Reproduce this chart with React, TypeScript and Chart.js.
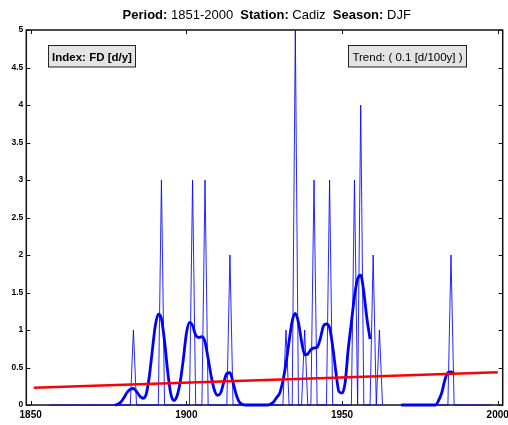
import { useEffect, useRef } from "react";
import { Chart, registerables } from "chart.js";

Chart.register(...registerables);

// ---------- data ----------
const startYear = 1856;

// annual FD index [d/y], 1856..1998 (null = missing)
const annualFD: (number | null)[] = [
  0, 0, 0, 0, // 1856-1859
  0, 0, 0, 0, 0, 0, 0, 0, 0, 0, // 1860s
  0, 0, 0, 0, 0, 0, 0, 0, 0, 0, // 1870s
  0, 0, 0, 1, 0, 0, 0, 0, 0, 0, // 1880s
  0, 0, 3, 0, 0, 0, 0, 0, 0, 0, // 1890s
  0, 0, 3, 0, 0, 0, 3, 0, 0, 0, // 1900s
  0, 0, 0, 0, 2, 0, 0, 0, 0, 0, // 1910s
  0, 0, 0, 0, 0, 0, 0, 0, 0, 0, // 1920s
  0, 0, 1, 0, 0, 5, 0, 0, 1, 0, // 1930s
  0, 3, 0, 0, 0, 0, 3, 0, 0, 0, // 1940s
  0, 0, 0, 0, 3, 0, 4, 0, 0, 0, // 1950s
  2, 0, 1, 0, null, null, null, null, null, 0, // 1960s
  0, 0, 0, 0, 0, 0, 0, 0, 0, 0, // 1970s
  0, 0, 0, 0, 0, 2, 0, 0, 0, 0, // 1980s
  0, 0, 0, 0, 0, 0, 0, 0, 0, // 1990-1998
];

// smoothed FD index, aligned with annualFD
const smoothedFD: (number | null)[] = [
  null, null, null, null,
  null, null, null, null, null, null, null, null, null, null,
  null, null, null, null, null, null, null, 0, 0.01, 0.04,
  0.1, 0.17, 0.21, 0.22, 0.18, 0.12, 0.09, 0.13, 0.35, 0.7,
  1.05, 1.21, 1.15, 0.85, 0.45, 0.15, 0.06, 0.12, 0.3, 0.6,
  0.95, 1.1, 1.06, 0.93, 0.9, 0.91, 0.84, 0.62, 0.38, 0.2,
  0.13, 0.16, 0.3, 0.42, 0.43, 0.3, 0.14, 0.04, 0.01, 0,
  0, 0, 0, 0, 0, 0, 0, 0.01, 0.04, 0.1,
  0.16, 0.32, 0.55, 0.85, 1.12, 1.22, 1.1, 0.85, 0.67, 0.68,
  0.74, 0.76, 0.77, 0.88, 1.05, 1.08, 1.03, 0.78, 0.45, 0.18,
  0.16, 0.3, 0.75, 1.1, 1.45, 1.68, 1.73, 1.5, 1.15, 0.88,
  null, null, null, null, null, null, null, null, null, 0,
  0, 0, 0, 0, 0, 0, 0, 0, 0, 0,
  0, 0.06, 0.16, 0.33, 0.43, 0.44, 0.42, null, null, null,
  null, null, null, null, null, null, null, null, null,
];

const trendYears = [1851, 2000];
const trendValues = [0.23, 0.436];

const xTicks = [1850, 1900, 1950, 2000];
const yTicks = [0, 0.5, 1, 1.5, 2, 2.5, 3, 3.5, 4, 4.5, 5];

const titleParts: [string, boolean][] = [
  ["Period:", true],
  [" 1851-2000  ", false],
  ["Station:", true],
  [" Cadiz  ", false],
  ["Season:", true],
  [" DJF", false],
];
const indexLabel = "Index: FD [d/y]";
const trendLabel = "Trend: ( 0.1 [d/100y] )";

const FONT = "'Liberation Sans', Arial, sans-serif";

const decorPlugin = {
  id: "decor",
  beforeDatasetsDraw(chart: any) {
    const { ctx, chartArea: a, scales } = chart;
    ctx.save();
    ctx.strokeStyle = "#111";
    ctx.lineWidth = 1.5;
    ctx.strokeRect(a.left, a.top, a.right - a.left, a.bottom - a.top);
    ctx.lineWidth = 1;
    ctx.beginPath();
    xTicks.forEach((v) => {
      const x = Math.round(scales.x.getPixelForValue(v)) + 0.5;
      ctx.moveTo(x, a.bottom);
      ctx.lineTo(x, a.bottom - 4);
      ctx.moveTo(x, a.top);
      ctx.lineTo(x, a.top + 4);
    });
    yTicks.forEach((v) => {
      const y = Math.round(scales.y.getPixelForValue(v)) + 0.5;
      ctx.moveTo(a.left, y);
      ctx.lineTo(a.left + 4, y);
      ctx.moveTo(a.right, y);
      ctx.lineTo(a.right - 4, y);
    });
    ctx.stroke();
    ctx.restore();
  },
  afterDraw(chart: any) {
    const { ctx } = chart;
    ctx.save();
    // title
    ctx.fillStyle = "#000";
    ctx.textBaseline = "alphabetic";
    let total = 0;
    titleParts.forEach(([t, b]) => {
      ctx.font = `${b ? "bold " : ""}13px ${FONT}`;
      total += ctx.measureText(t).width;
    });
    let x = 266.7 - total / 2;
    titleParts.forEach(([t, b]) => {
      ctx.font = `${b ? "bold " : ""}13px ${FONT}`;
      ctx.fillText(t, x, 19);
      x += ctx.measureText(t).width;
    });
    // annotation boxes
    const drawBox = (label: string, bold: boolean, left: number, right: number) => {
      ctx.fillStyle = "#e4e4e4";
      ctx.fillRect(left, 45.5, right - left, 21.5);
      ctx.strokeStyle = "#222";
      ctx.lineWidth = 1;
      ctx.strokeRect(left, 45.5, right - left, 21.5);
      ctx.fillStyle = "#000";
      ctx.font = `${bold ? "bold " : ""}11.5px ${FONT}`;
      ctx.textAlign = "center";
      ctx.fillText(label, (left + right) / 2, 60.5);
    };
    drawBox(indexLabel, true, 48.5, 135.5);
    drawBox(trendLabel, false, 348.5, 466.5);
    ctx.restore();
  },
};

export default function App() {
  const ref = useRef<HTMLCanvasElement | null>(null);

  useEffect(() => {
    if (!ref.current) return;
    const years = annualFD.map((_, i) => startYear + i);
    const chart = new Chart(ref.current, {
      type: "line",
      data: {
        datasets: [
          {
            label: "trend",
            data: trendYears.map((y, i) => ({ x: y, y: trendValues[i] })),
            borderColor: "#ff0000",
            borderWidth: 2.5,
            pointRadius: 0,
          },
          {
            label: "smoothed",
            data: years.map((y, i) => ({ x: y, y: smoothedFD[i] })),
            borderColor: "#0000ff",
            borderWidth: 2.8,
            pointRadius: 0,
            cubicInterpolationMode: "monotone",
            spanGaps: false,
            clip: 3,
          },
          {
            label: "annual",
            data: years.map((y, i) => ({ x: y, y: annualFD[i] })),
            borderColor: "rgba(0,0,255,0.85)",
            borderWidth: 1,
            pointRadius: 0,
            spanGaps: false,
            clip: 3,
          },
        ] as any,
      },
      options: {
        animation: false,
        responsive: false,
        layout: { padding: { left: 0, right: 5.3, top: 30, bottom: 0 } },
        plugins: {
          legend: { display: false },
          tooltip: { enabled: false },
          title: { display: false },
        },
        scales: {
          x: {
            type: "linear",
            min: 1848.6,
            max: 2001.6,
            grid: { display: false, drawTicks: false },
            border: { display: false },
            afterBuildTicks: (s: any) => {
              s.ticks = xTicks.map((v) => ({ value: v }));
            },
            afterFit: (s: any) => {
              s.height = 20;
              s.paddingLeft = 0;
              s.paddingRight = 0;
            },
            ticks: {
              autoSkip: false,
              maxRotation: 0,
              minRotation: 0,
              padding: 4,
              color: "#000",
              font: { family: FONT, size: 10, weight: "bold" },
              callback: (v: any) => String(v),
            },
          },
          y: {
            type: "linear",
            min: 0,
            max: 5,
            grid: { display: false, drawTicks: false },
            border: { display: false },
            afterBuildTicks: (s: any) => {
              s.ticks = yTicks.map((v) => ({ value: v }));
            },
            afterFit: (s: any) => {
              s.width = 26.3;
              s.paddingTop = 0;
              s.paddingBottom = 0;
            },
            ticks: {
              autoSkip: false,
              padding: 3,
              color: "#000",
              font: { family: FONT, size: 8.5, weight: "bold" },
              callback: (v: any) => String(v),
            },
          },
        },
      } as any,
      plugins: [decorPlugin],
    });
    return () => chart.destroy();
  }, []);

  return (
    <div style={{ position: "absolute", left: 0, top: 0, width: 508, height: 425, background: "#fff" }}>
      <canvas ref={ref} width={508} height={425} style={{ display: "block" }} />
    </div>
  );
}
